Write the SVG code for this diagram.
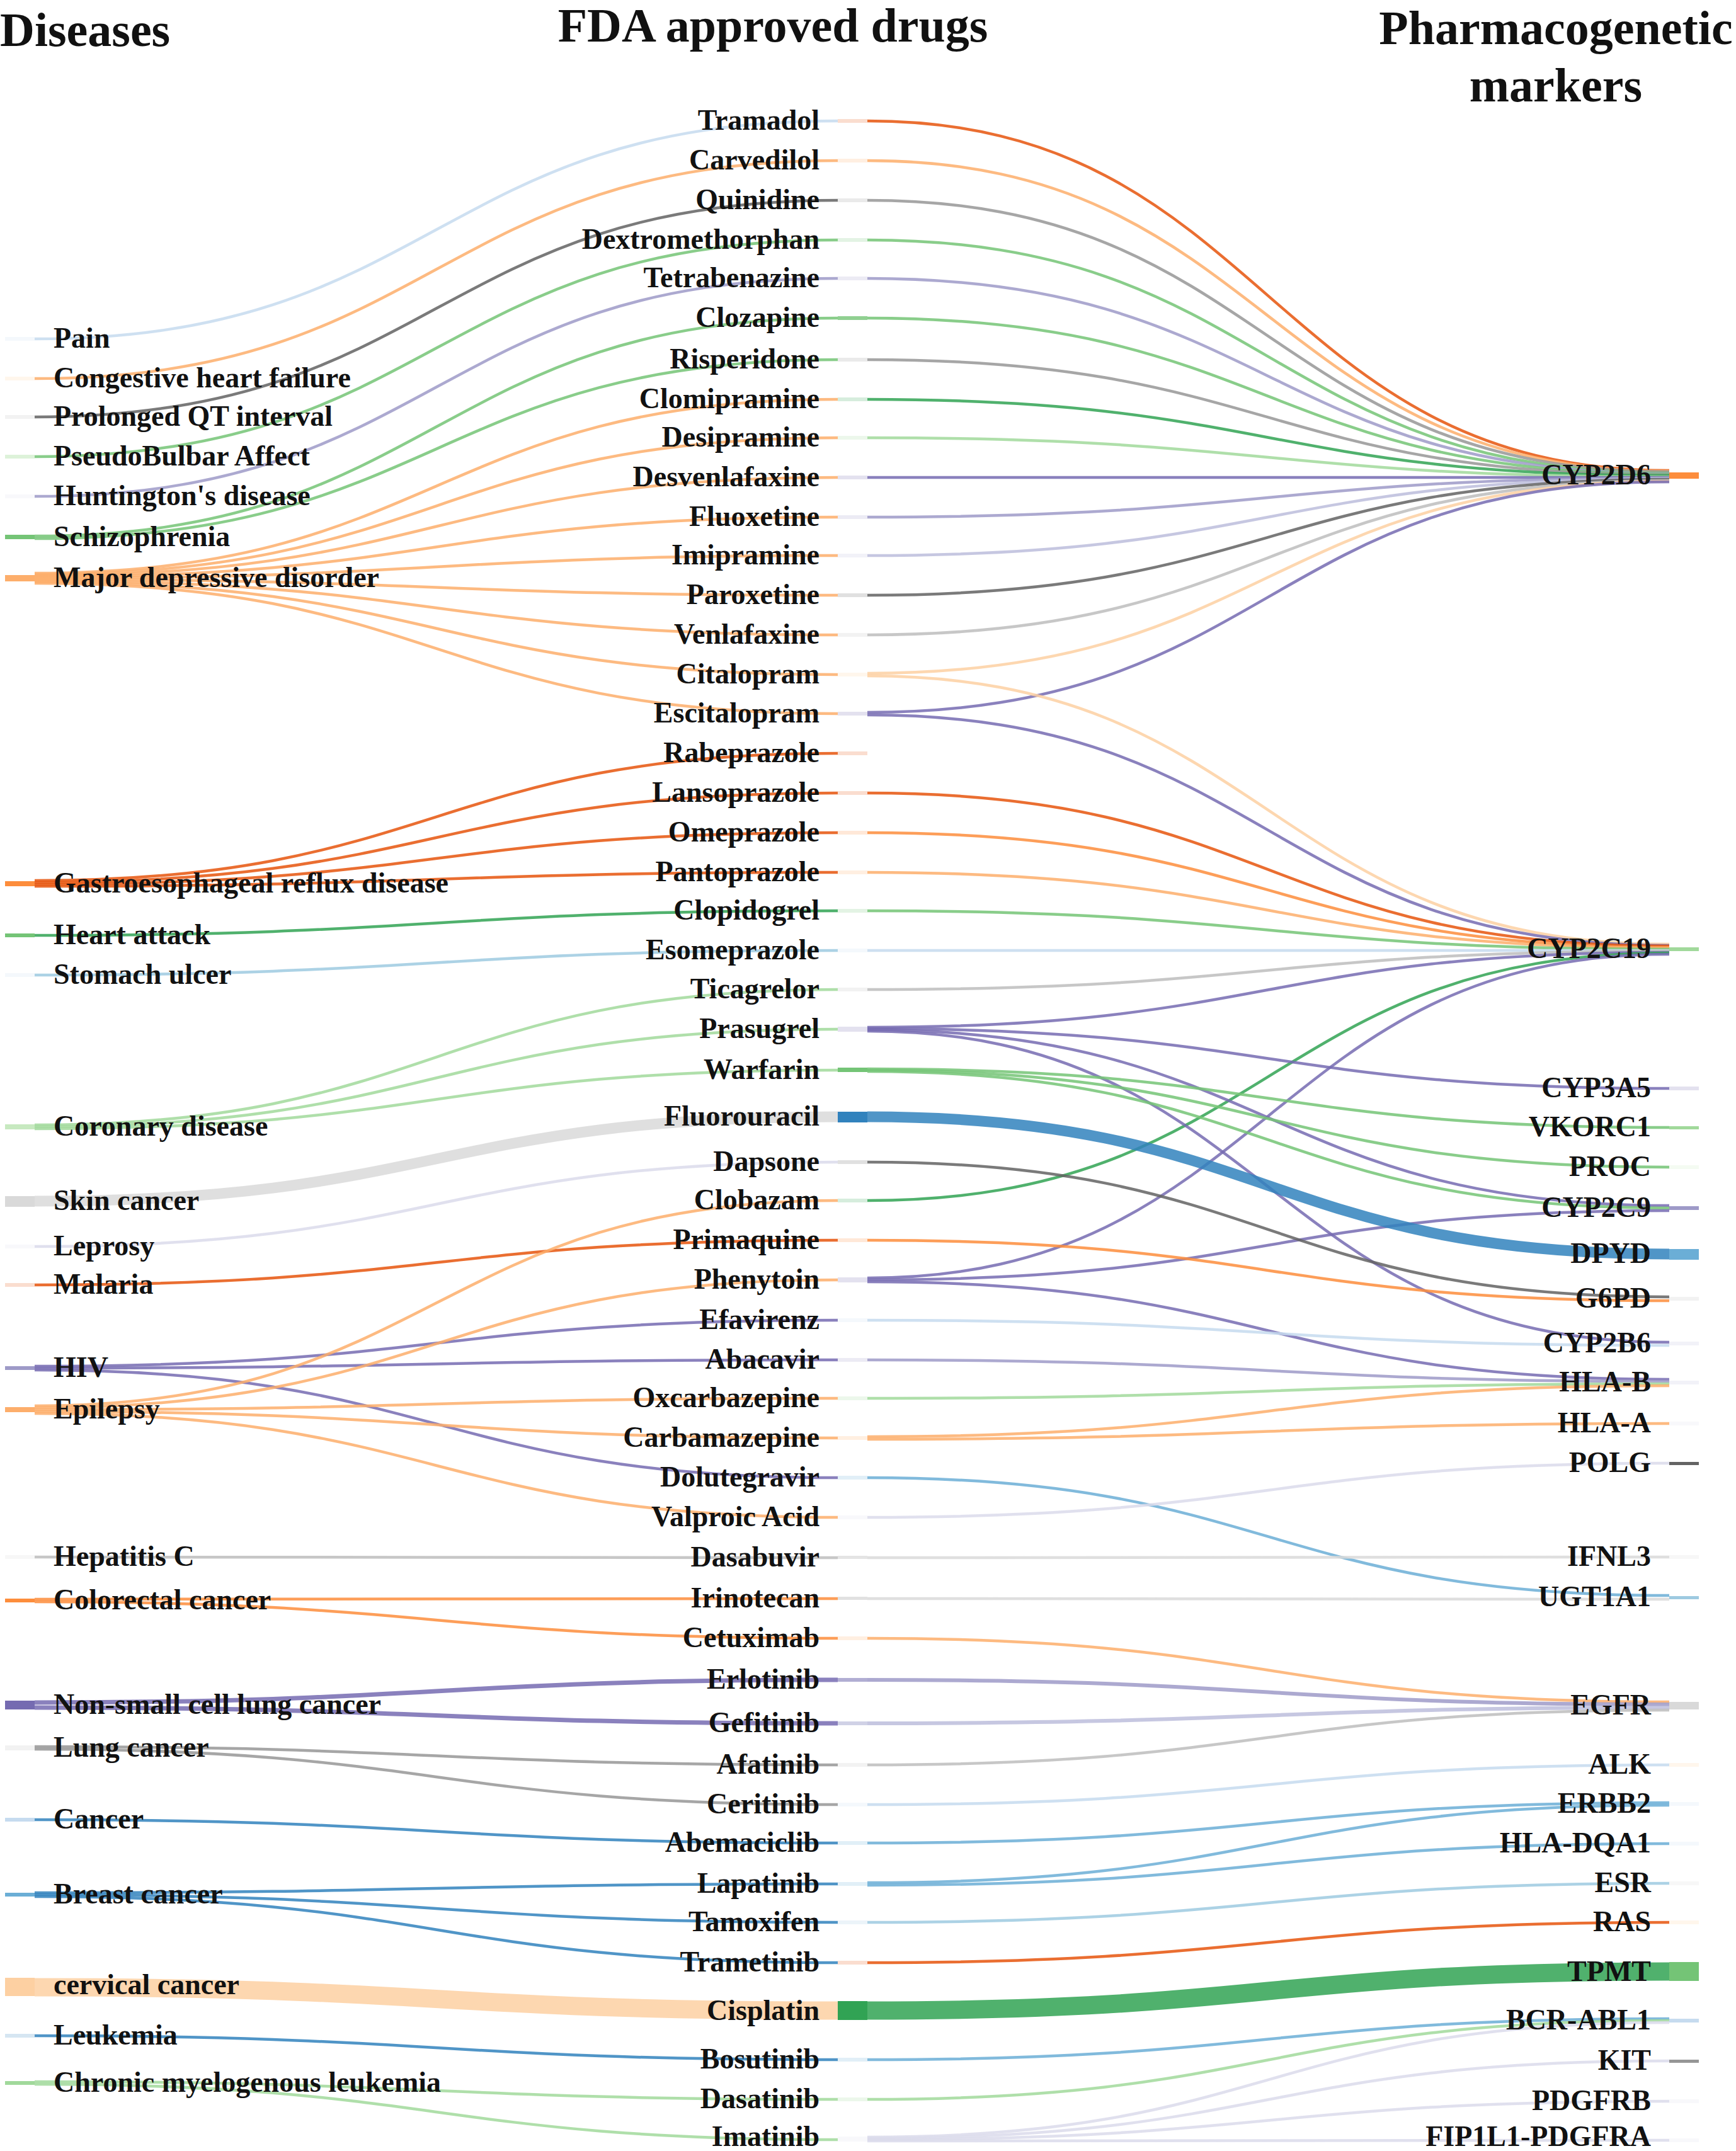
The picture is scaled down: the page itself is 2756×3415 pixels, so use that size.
<svg xmlns="http://www.w3.org/2000/svg" width="2756" height="3415" viewBox="0 0 2756 3415">
<style>
.b1{stroke:#3182bd;fill:#3182bd}.b2{stroke:#6baed6;fill:#6baed6}.b3{stroke:#9ecae1;fill:#9ecae1}.b4{stroke:#c6dbef;fill:#c6dbef}
.o1{stroke:#e6550d;fill:#e6550d}.o2{stroke:#fd8d3c;fill:#fd8d3c}.o3{stroke:#fdae6b;fill:#fdae6b}.o4{stroke:#fdd0a2;fill:#fdd0a2}
.g1{stroke:#31a354;fill:#31a354}.g2{stroke:#74c476;fill:#74c476}.g3{stroke:#a1d99b;fill:#a1d99b}.g4{stroke:#c7e9c0;fill:#c7e9c0}
.p1{stroke:#756bb1;fill:#756bb1}.p2{stroke:#9e9ac8;fill:#9e9ac8}.p3{stroke:#bcbddc;fill:#bcbddc}.p4{stroke:#dadaeb;fill:#dadaeb}
.k1{stroke:#636363;fill:#636363}.k2{stroke:#969696;fill:#969696}.k3{stroke:#bdbdbd;fill:#bdbdbd}.k4{stroke:#d9d9d9;fill:#d9d9d9}
.lk{fill:none;stroke-width:4.5;stroke-opacity:.85}
.nd{stroke:none}
.nf{opacity:.2}
.t{font-family:"Liberation Serif","Times New Roman",serif;font-weight:bold;font-size:46px;fill:#111}
.e{text-anchor:end}
.h{font-size:76px}
.m{text-anchor:middle}
</style>
<rect width="2756" height="3415" fill="#ffffff"/>
<g id="connectors">
<!-- disease to drug -->
<path class="lk b4" d="M55,538C692,538 692,192 1330,192"/>
<path class="lk o3" d="M55,601C692,601 692,255 1330,255"/>
<path class="lk k1" d="M55,662C692,662 692,318 1330,318"/>
<path class="lk g2" d="M55,725C692,725 692,381 1330,381"/>
<path class="lk p2" d="M55,788C692,788 692,442 1330,442"/>
<path class="lk g2" d="M55,851C692,851 692,505 1330,505"/>
<path class="lk g2" d="M55,855C692,855 692,571 1330,571"/>
<path class="lk o3" d="M55,910C692,910 692,634 1330,634"/>
<path class="lk o3" d="M55,912C692,912 692,695 1330,695"/>
<path class="lk o3" d="M55,914C692,914 692,758 1330,758"/>
<path class="lk o3" d="M55,916C692,916 692,821 1330,821"/>
<path class="lk o3" d="M55,918C692,918 692,882 1330,882"/>
<path class="lk o3" d="M55,920C692,920 692,945 1330,945"/>
<path class="lk o3" d="M55,922C692,922 692,1008 1330,1008"/>
<path class="lk o3" d="M55,924C692,924 692,1071 1330,1071"/>
<path class="lk o3" d="M55,926C692,926 692,1133 1330,1133"/>
<path class="lk o1" d="M55,1398C692,1398 692,1196 1330,1196"/>
<path class="lk o1" d="M55,1401C692,1401 692,1259 1330,1259"/>
<path class="lk o1" d="M55,1404C692,1404 692,1322 1330,1322"/>
<path class="lk o1" d="M55,1407C692,1407 692,1385 1330,1385"/>
<path class="lk g1" d="M55,1485C692,1485 692,1446 1330,1446"/>
<path class="lk b3" d="M55,1548C692,1548 692,1509 1330,1509"/>
<path class="lk g3" d="M55,1786C692,1786 692,1571 1330,1571"/>
<path class="lk g3" d="M55,1789C692,1789 692,1634 1330,1634"/>
<path class="lk g3" d="M55,1792C692,1792 692,1699 1330,1699"/>
<path class="lk k4" style="stroke-width:17" d="M55,1907C692,1907 692,1773 1330,1773"/>
<path class="lk p4" d="M55,1979C692,1979 692,1845 1330,1845"/>
<path class="lk o1" d="M55,2040C692,2040 692,1969 1330,1969"/>
<path class="lk p1" d="M55,2169C692,2169 692,2096 1330,2096"/>
<path class="lk p1" d="M55,2172C692,2172 692,2159 1330,2159"/>
<path class="lk p1" d="M55,2175C692,2175 692,2346 1330,2346"/>
<path class="lk o3" d="M55,2232C692,2232 692,1906 1330,1906"/>
<path class="lk o3" d="M55,2235C692,2235 692,2032 1330,2032"/>
<path class="lk o3" d="M55,2238C692,2238 692,2220 1330,2220"/>
<path class="lk o3" d="M55,2241C692,2241 692,2283 1330,2283"/>
<path class="lk o3" d="M55,2244C692,2244 692,2409 1330,2409"/>
<path class="lk k3" d="M55,2472C692,2472 692,2473 1330,2473"/>
<path class="lk o2" d="M55,2539C692,2539 692,2538 1330,2538"/>
<path class="lk o2" d="M55,2543C692,2543 692,2601 1330,2601"/>
<path class="lk p1" style="stroke-width:7" d="M55,2703C692,2703 692,2667 1330,2667"/>
<path class="lk p1" style="stroke-width:7" d="M55,2711C692,2711 692,2736 1330,2736"/>
<path class="lk k2" d="M55,2773C692,2773 692,2802 1330,2802"/>
<path class="lk k2" d="M55,2777C692,2777 692,2865 1330,2865"/>
<path class="lk b1" d="M55,2889C692,2889 692,2926 1330,2926"/>
<path class="lk b1" d="M55,3005C692,3005 692,2991 1330,2991"/>
<path class="lk b1" d="M55,3008C692,3008 692,3052 1330,3052"/>
<path class="lk b1" d="M55,3011C692,3011 692,3116 1330,3116"/>
<path class="lk o4" style="stroke-width:29" d="M55,3155C692,3155 692,3192 1330,3192"/>
<path class="lk b1" d="M55,3232C692,3232 692,3270 1330,3270"/>
<path class="lk g3" d="M55,3305C692,3305 692,3333 1330,3333"/>
<path class="lk g3" d="M55,3309C692,3309 692,3397 1330,3397"/>
<!-- drug to marker -->
<path class="lk o1" d="M1377,192C2013,192 2013,747 2650,747"/>
<path class="lk o3" d="M1377,255C2013,255 2013,748 2650,748"/>
<path class="lk k2" d="M1377,318C2013,318 2013,749 2650,749"/>
<path class="lk g2" d="M1377,381C2013,381 2013,751 2650,751"/>
<path class="lk p2" d="M1377,442C2013,442 2013,752 2650,752"/>
<path class="lk g2" d="M1377,505C2013,505 2013,753 2650,753"/>
<path class="lk k2" d="M1377,571C2013,571 2013,754 2650,754"/>
<path class="lk g1" d="M1377,634C2013,634 2013,755 2650,755"/>
<path class="lk g3" d="M1377,695C2013,695 2013,757 2650,757"/>
<path class="lk p1" d="M1377,758C2013,758 2013,758 2650,758"/>
<path class="lk p2" d="M1377,821C2013,821 2013,759 2650,759"/>
<path class="lk p3" d="M1377,882C2013,882 2013,760 2650,760"/>
<path class="lk k1" d="M1377,945C2013,945 2013,761 2650,761"/>
<path class="lk k3" d="M1377,1008C2013,1008 2013,763 2650,763"/>
<path class="lk o4" d="M1377,1069C2013,1069 2013,764 2650,764"/>
<path class="lk p1" d="M1377,1131C2013,1131 2013,765 2650,765"/>
<path class="lk o4" d="M1377,1073C2013,1073 2013,1499 2650,1499"/>
<path class="lk p1" d="M1377,1135C2013,1135 2013,1501 2650,1501"/>
<path class="lk o1" d="M1377,1259C2013,1259 2013,1502 2650,1502"/>
<path class="lk o2" d="M1377,1322C2013,1322 2013,1504 2650,1504"/>
<path class="lk o3" d="M1377,1385C2013,1385 2013,1505 2650,1505"/>
<path class="lk g2" d="M1377,1446C2013,1446 2013,1507 2650,1507"/>
<path class="lk b4" d="M1377,1509C2013,1509 2013,1509 2650,1509"/>
<path class="lk k3" d="M1377,1571C2013,1571 2013,1510 2650,1510"/>
<path class="lk p1" d="M1377,1631C2013,1631 2013,1512 2650,1512"/>
<path class="lk g1" d="M1377,1906C2013,1906 2013,1513 2650,1513"/>
<path class="lk p1" d="M1377,2029C2013,2029 2013,1515 2650,1515"/>
<path class="lk p1" d="M1377,1633C2013,1633 2013,1728 2650,1728"/>
<path class="lk p1" d="M1377,1635C2013,1635 2013,1914 2650,1914"/>
<path class="lk p1" d="M1377,1637C2013,1637 2013,2131 2650,2131"/>
<path class="lk g2" d="M1377,1697C2013,1697 2013,1790 2650,1790"/>
<path class="lk g2" d="M1377,1699C2013,1699 2013,1853 2650,1853"/>
<path class="lk g2" d="M1377,1701C2013,1701 2013,1918 2650,1918"/>
<path class="lk p1" d="M1377,2032C2013,2032 2013,1922 2650,1922"/>
<path class="lk p1" d="M1377,2035C2013,2035 2013,2190 2650,2190"/>
<path class="lk b1" style="stroke-width:17" d="M1377,1773C2013,1773 2013,1991 2650,1991"/>
<path class="lk k1" d="M1377,1845C2013,1845 2013,2059 2650,2059"/>
<path class="lk o2" d="M1377,1969C2013,1969 2013,2065 2650,2065"/>
<path class="lk b4" d="M1377,2096C2013,2096 2013,2136 2650,2136"/>
<path class="lk p2" d="M1377,2159C2013,2159 2013,2193 2650,2193"/>
<path class="lk g3" d="M1377,2220C2013,2220 2013,2197 2650,2197"/>
<path class="lk o3" d="M1377,2281C2013,2281 2013,2200 2650,2200"/>
<path class="lk o3" d="M1377,2285C2013,2285 2013,2260 2650,2260"/>
<path class="lk b2" d="M1377,2346C2013,2346 2013,2533 2650,2533"/>
<path class="lk p4" d="M1377,2409C2013,2409 2013,2323 2650,2323"/>
<path class="lk k4" d="M1377,2473C2013,2473 2013,2472 2650,2472"/>
<path class="lk k4" d="M1377,2538C2013,2538 2013,2539 2650,2539"/>
<path class="lk o3" d="M1377,2601C2013,2601 2013,2702 2650,2702"/>
<path class="lk p2" style="stroke-width:6" d="M1377,2667C2013,2667 2013,2706 2650,2706"/>
<path class="lk p3" style="stroke-width:6" d="M1377,2736C2013,2736 2013,2711 2650,2711"/>
<path class="lk k3" d="M1377,2802C2013,2802 2013,2715 2650,2715"/>
<path class="lk b4" d="M1377,2865C2013,2865 2013,2802 2650,2802"/>
<path class="lk b2" d="M1377,2926C2013,2926 2013,2862 2650,2862"/>
<path class="lk b2" d="M1377,2989C2013,2989 2013,2866 2650,2866"/>
<path class="lk b2" d="M1377,2993C2013,2993 2013,2927 2650,2927"/>
<path class="lk b3" d="M1377,3052C2013,3052 2013,2990 2650,2990"/>
<path class="lk o1" d="M1377,3116C2013,3116 2013,3052 2650,3052"/>
<path class="lk g1" style="stroke-width:29" d="M1377,3192C2013,3192 2013,3130 2650,3130"/>
<path class="lk b2" d="M1377,3270C2013,3270 2013,3205 2650,3205"/>
<path class="lk g3" d="M1377,3333C2013,3333 2013,3208 2650,3208"/>
<path class="lk p4" d="M1377,3393C2013,3393 2013,3211 2650,3211"/>
<path class="lk p4" d="M1377,3395C2013,3395 2013,3272 2650,3272"/>
<path class="lk p4" d="M1377,3397C2013,3397 2013,3336 2650,3336"/>
<path class="lk p4" d="M1377,3399C2013,3399 2013,3398 2650,3398"/>
</g>
<g id="headers">
<text class="t h" x="0" y="73">Diseases</text>
<text class="t h m" x="1227" y="66">FDA approved drugs</text>
<text class="t h m" x="2470" y="70">Pharmacogenetic</text>
<text class="t h m" x="2470" y="161">markers</text>
</g>
<g id="diseases">
<g id="d-pain"><rect class="nd b4 nf" x="8" y="535" width="47" height="6"/><text class="t" x="85" y="552">Pain</text></g>
<g id="d-chf"><rect class="nd o4 nf" x="8" y="598" width="47" height="6"/><text class="t" x="85" y="615">Congestive heart failure</text></g>
<g id="d-qt"><rect class="nd k3 nf" x="8" y="659" width="47" height="6"/><text class="t" x="85" y="676">Prolonged QT interval</text></g>
<g id="d-pba"><rect class="nd g4" x="8" y="722" width="47" height="6" opacity=".6"/><text class="t" x="85" y="739">PseudoBulbar Affect</text></g>
<g id="d-hunt"><rect class="nd p4 nf" x="8" y="785" width="47" height="6"/><text class="t" x="85" y="802">Huntington's disease</text></g>
<g id="d-schiz"><rect class="nd g2" x="8" y="849" width="47" height="7"/><text class="t" x="85" y="867">Schizophrenia</text></g>
<g id="d-mdd"><rect class="nd o3" x="8" y="913" width="47" height="10"/><text class="t" x="85" y="932">Major depressive disorder</text></g>
<g id="d-gerd"><rect class="nd o2" x="8" y="1399" width="47" height="8"/><text class="t" x="85" y="1417">Gastroesophageal reflux disease</text></g>
<g id="d-heart"><rect class="nd g2" x="8" y="1482" width="47" height="6"/><text class="t" x="85" y="1499">Heart attack</text></g>
<g id="d-ulcer"><rect class="nd b4 nf" x="8" y="1545" width="47" height="6"/><text class="t" x="85" y="1562">Stomach ulcer</text></g>
<g id="d-coronary"><rect class="nd g4" x="8" y="1785" width="47" height="8"/><text class="t" x="85" y="1803">Coronary disease</text></g>
<g id="d-skin"><rect class="nd k4" x="8" y="1899" width="47" height="17"/><text class="t" x="85" y="1921">Skin cancer</text></g>
<g id="d-leprosy"><rect class="nd p4 nf" x="8" y="1976" width="47" height="6"/><text class="t" x="85" y="1993">Leprosy</text></g>
<g id="d-malaria"><rect class="nd o1 nf" x="8" y="2037" width="47" height="6"/><text class="t" x="85" y="2054">Malaria</text></g>
<g id="d-hiv"><rect class="nd p2" x="8" y="2169" width="47" height="6"/><text class="t" x="85" y="2186">HIV</text></g>
<g id="d-epilepsy"><rect class="nd o3" x="8" y="2234" width="47" height="8"/><text class="t" x="85" y="2252">Epilepsy</text></g>
<g id="d-hepc"><rect class="nd k4 nf" x="8" y="2469" width="47" height="6"/><text class="t" x="85" y="2486">Hepatitis C</text></g>
<g id="d-crc"><rect class="nd o2" x="8" y="2538" width="47" height="6"/><text class="t" x="85" y="2555">Colorectal cancer</text></g>
<g id="d-nsclc"><rect class="nd p1" x="8" y="2700" width="47" height="14"/><text class="t" x="85" y="2721">Non-small cell lung cancer</text></g>
<g id="d-lung"><rect class="nd k3 nf" x="8" y="2771" width="47" height="8"/><text class="t" x="85" y="2789">Lung cancer</text></g>
<g id="d-cancer"><rect class="nd b4" x="8" y="2886" width="47" height="6"/><text class="t" x="85" y="2903">Cancer</text></g>
<g id="d-breast"><rect class="nd b2" x="8" y="3005" width="47" height="6"/><text class="t" x="85" y="3022">Breast cancer</text></g>
<g id="d-cervical"><rect class="nd o4" x="8" y="3140" width="47" height="29"/><text class="t" x="85" y="3166">cervical cancer</text></g>
<g id="d-leuk"><rect class="nd b1 nf" x="8" y="3229" width="47" height="6"/><text class="t" x="85" y="3246">Leukemia</text></g>
<g id="d-cml"><rect class="nd g3" x="8" y="3304" width="47" height="6"/><text class="t" x="85" y="3321">Chronic myelogenous leukemia</text></g>
</g>
<g id="drugs">
<g id="r-tramadol"><rect class="nd o1 nf" x="1330" y="189" width="47" height="6"/><text class="t e" x="1301" y="206">Tramadol</text></g>
<g id="r-carvedilol"><rect class="nd o3 nf" x="1330" y="252" width="47" height="6"/><text class="t e" x="1301" y="269">Carvedilol</text></g>
<g id="r-quinidine"><rect class="nd k2 nf" x="1330" y="315" width="47" height="6"/><text class="t e" x="1301" y="332">Quinidine</text></g>
<g id="r-dextromethorphan"><rect class="nd g2 nf" x="1330" y="378" width="47" height="6"/><text class="t e" x="1301" y="395">Dextromethorphan</text></g>
<g id="r-tetrabenazine"><rect class="nd p2 nf" x="1330" y="439" width="47" height="6"/><text class="t e" x="1301" y="456">Tetrabenazine</text></g>
<g id="r-clozapine"><rect class="nd g2" x="1330" y="502" width="47" height="6" opacity=".8"/><text class="t e" x="1301" y="519">Clozapine</text></g>
<g id="r-risperidone"><rect class="nd k2 nf" x="1330" y="568" width="47" height="6"/><text class="t e" x="1301" y="585">Risperidone</text></g>
<g id="r-clomipramine"><rect class="nd g1 nf" x="1330" y="631" width="47" height="6"/><text class="t e" x="1301" y="648">Clomipramine</text></g>
<g id="r-desipramine"><rect class="nd g3 nf" x="1330" y="692" width="47" height="6"/><text class="t e" x="1301" y="709">Desipramine</text></g>
<g id="r-desvenlafaxine"><rect class="nd p1 nf" x="1330" y="755" width="47" height="6"/><text class="t e" x="1301" y="772">Desvenlafaxine</text></g>
<g id="r-fluoxetine"><rect class="nd p2 nf" x="1330" y="818" width="47" height="6"/><text class="t e" x="1301" y="835">Fluoxetine</text></g>
<g id="r-imipramine"><rect class="nd p3 nf" x="1330" y="879" width="47" height="6"/><text class="t e" x="1301" y="896">Imipramine</text></g>
<g id="r-paroxetine"><rect class="nd k1 nf" x="1330" y="942" width="47" height="6"/><text class="t e" x="1301" y="959">Paroxetine</text></g>
<g id="r-venlafaxine"><rect class="nd k3 nf" x="1330" y="1005" width="47" height="6"/><text class="t e" x="1301" y="1022">Venlafaxine</text></g>
<g id="r-citalopram"><rect class="nd o4 nf" x="1330" y="1068" width="47" height="6"/><text class="t e" x="1301" y="1085">Citalopram</text></g>
<g id="r-escitalopram"><rect class="nd p1 nf" x="1330" y="1130" width="47" height="6"/><text class="t e" x="1301" y="1147">Escitalopram</text></g>
<g id="r-rabeprazole"><rect class="nd o1 nf" x="1330" y="1193" width="47" height="6"/><text class="t e" x="1301" y="1210">Rabeprazole</text></g>
<g id="r-lansoprazole"><rect class="nd o1 nf" x="1330" y="1256" width="47" height="6"/><text class="t e" x="1301" y="1273">Lansoprazole</text></g>
<g id="r-omeprazole"><rect class="nd o2 nf" x="1330" y="1319" width="47" height="6"/><text class="t e" x="1301" y="1336">Omeprazole</text></g>
<g id="r-pantoprazole"><rect class="nd o3 nf" x="1330" y="1382" width="47" height="6"/><text class="t e" x="1301" y="1399">Pantoprazole</text></g>
<g id="r-clopidogrel"><rect class="nd g2 nf" x="1330" y="1443" width="47" height="6"/><text class="t e" x="1301" y="1460">Clopidogrel</text></g>
<g id="r-esomeprazole"><rect class="nd b4 nf" x="1330" y="1506" width="47" height="6"/><text class="t e" x="1301" y="1523">Esomeprazole</text></g>
<g id="r-ticagrelor"><rect class="nd k3 nf" x="1330" y="1568" width="47" height="6"/><text class="t e" x="1301" y="1585">Ticagrelor</text></g>
<g id="r-prasugrel"><rect class="nd p1 nf" x="1330" y="1630" width="47" height="8"/><text class="t e" x="1301" y="1648">Prasugrel</text></g>
<g id="r-warfarin"><rect class="nd g2" x="1330" y="1695" width="47" height="7"/><text class="t e" x="1301" y="1713">Warfarin</text></g>
<g id="r-fluorouracil"><rect class="nd b1" x="1330" y="1765" width="47" height="17"/><text class="t e" x="1301" y="1787">Fluorouracil</text></g>
<g id="r-dapsone"><rect class="nd k1 nf" x="1330" y="1842" width="47" height="6"/><text class="t e" x="1301" y="1859">Dapsone</text></g>
<g id="r-clobazam"><rect class="nd g1 nf" x="1330" y="1903" width="47" height="6"/><text class="t e" x="1301" y="1920">Clobazam</text></g>
<g id="r-primaquine"><rect class="nd o2 nf" x="1330" y="1966" width="47" height="6"/><text class="t e" x="1301" y="1983">Primaquine</text></g>
<g id="r-phenytoin"><rect class="nd p1 nf" x="1330" y="2028" width="47" height="8"/><text class="t e" x="1301" y="2046">Phenytoin</text></g>
<g id="r-efavirenz"><rect class="nd b4 nf" x="1330" y="2093" width="47" height="6"/><text class="t e" x="1301" y="2110">Efavirenz</text></g>
<g id="r-abacavir"><rect class="nd p2 nf" x="1330" y="2156" width="47" height="6"/><text class="t e" x="1301" y="2173">Abacavir</text></g>
<g id="r-oxcarbazepine"><rect class="nd g3 nf" x="1330" y="2217" width="47" height="6"/><text class="t e" x="1301" y="2234">Oxcarbazepine</text></g>
<g id="r-carbamazepine"><rect class="nd o3 nf" x="1330" y="2280" width="47" height="6"/><text class="t e" x="1301" y="2297">Carbamazepine</text></g>
<g id="r-dolutegravir"><rect class="nd b2 nf" x="1330" y="2343" width="47" height="6"/><text class="t e" x="1301" y="2360">Dolutegravir</text></g>
<g id="r-valproic"><rect class="nd p4 nf" x="1330" y="2406" width="47" height="6"/><text class="t e" x="1301" y="2423">Valproic Acid</text></g>
<g id="r-dasabuvir"><rect class="nd k4" x="1330" y="2470" width="47" height="5" opacity=".7"/><text class="t e" x="1301" y="2487">Dasabuvir</text></g>
<g id="r-irinotecan"><rect class="nd k4" x="1330" y="2535" width="47" height="5" opacity=".8"/><text class="t e" x="1301" y="2552">Irinotecan</text></g>
<g id="r-cetuximab"><rect class="nd o3 nf" x="1330" y="2598" width="47" height="6"/><text class="t e" x="1301" y="2615">Cetuximab</text></g>
<g id="r-erlotinib"><rect class="nd p2" x="1330" y="2664" width="47" height="6" opacity=".8"/><text class="t e" x="1301" y="2681">Erlotinib</text></g>
<g id="r-gefitinib"><rect class="nd p3" x="1330" y="2733" width="47" height="6" opacity=".7"/><text class="t e" x="1301" y="2750">Gefitinib</text></g>
<g id="r-afatinib"><rect class="nd k3 nf" x="1330" y="2799" width="47" height="6"/><text class="t e" x="1301" y="2816">Afatinib</text></g>
<g id="r-ceritinib"><rect class="nd b4 nf" x="1330" y="2862" width="47" height="6"/><text class="t e" x="1301" y="2879">Ceritinib</text></g>
<g id="r-abemaciclib"><rect class="nd b2 nf" x="1330" y="2923" width="47" height="6"/><text class="t e" x="1301" y="2940">Abemaciclib</text></g>
<g id="r-lapatinib"><rect class="nd b2 nf" x="1330" y="2988" width="47" height="6"/><text class="t e" x="1301" y="3005">Lapatinib</text></g>
<g id="r-tamoxifen"><rect class="nd b3 nf" x="1330" y="3049" width="47" height="6"/><text class="t e" x="1301" y="3066">Tamoxifen</text></g>
<g id="r-trametinib"><rect class="nd o1 nf" x="1330" y="3113" width="47" height="6"/><text class="t e" x="1301" y="3130">Trametinib</text></g>
<g id="r-cisplatin"><rect class="nd g1" x="1330" y="3177" width="47" height="30"/><text class="t e" x="1301" y="3207">Cisplatin</text></g>
<g id="r-bosutinib"><rect class="nd b2 nf" x="1330" y="3267" width="47" height="6"/><text class="t e" x="1301" y="3284">Bosutinib</text></g>
<g id="r-dasatinib"><rect class="nd g3 nf" x="1330" y="3330" width="47" height="6"/><text class="t e" x="1301" y="3347">Dasatinib</text></g>
<g id="r-imatinib"><rect class="nd p4 nf" x="1330" y="3392" width="47" height="8"/><text class="t e" x="1301" y="3407">Imatinib</text></g>
</g>
<g id="markers">
<g id="m-cyp2d6"><rect class="nd o2" x="2650" y="750" width="47" height="10"/><text class="t e" x="2621" y="769">CYP2D6</text></g>
<g id="m-cyp2c19"><rect class="nd g3" x="2650" y="1504" width="47" height="6"/><text class="t e" x="2621" y="1521">CYP2C19</text></g>
<g id="m-cyp3a5"><rect class="nd p1 nf" x="2650" y="1725" width="47" height="6"/><text class="t e" x="2621" y="1742">CYP3A5</text></g>
<g id="m-vkorc1"><rect class="nd g3" x="2650" y="1788" width="47" height="5"/><text class="t e" x="2621" y="1804">VKORC1</text></g>
<g id="m-proc"><rect class="nd g4 nf" x="2650" y="1850" width="47" height="6"/><text class="t e" x="2621" y="1867">PROC</text></g>
<g id="m-cyp2c9"><rect class="nd p2" x="2650" y="1915" width="47" height="6"/><text class="t e" x="2621" y="1932">CYP2C9</text></g>
<g id="m-dpyd"><rect class="nd b2" x="2650" y="1983" width="47" height="17"/><text class="t e" x="2621" y="2005">DPYD</text></g>
<g id="m-g6pd"><rect class="nd k3 nf" x="2650" y="2059" width="47" height="6"/><text class="t e" x="2621" y="2076">G6PD</text></g>
<g id="m-cyp2b6"><rect class="nd p3 nf" x="2650" y="2130" width="47" height="6"/><text class="t e" x="2621" y="2147">CYP2B6</text></g>
<g id="m-hlab"><rect class="nd p3 nf" x="2650" y="2192" width="47" height="6"/><text class="t e" x="2621" y="2209">HLA-B</text></g>
<g id="m-hlaa"><rect class="nd p4 nf" x="2650" y="2257" width="47" height="6"/><text class="t e" x="2621" y="2274">HLA-A</text></g>
<g id="m-polg"><rect class="nd k1" x="2650" y="2321" width="47" height="5"/><text class="t e" x="2621" y="2337">POLG</text></g>
<g id="m-ifnl3"><rect class="nd k4 nf" x="2650" y="2469" width="47" height="6"/><text class="t e" x="2621" y="2486">IFNL3</text></g>
<g id="m-ugt1a1"><rect class="nd b3" x="2650" y="2534" width="47" height="5"/><text class="t e" x="2621" y="2550">UGT1A1</text></g>
<g id="m-egfr"><rect class="nd k4" x="2650" y="2702" width="47" height="12"/><text class="t e" x="2621" y="2722">EGFR</text></g>
<g id="m-alk"><rect class="nd o4 nf" x="2650" y="2799" width="47" height="6"/><text class="t e" x="2621" y="2816">ALK</text></g>
<g id="m-erbb2"><rect class="nd b4 nf" x="2650" y="2861" width="47" height="6"/><text class="t e" x="2621" y="2878">ERBB2</text></g>
<g id="m-hladqa1"><rect class="nd b4 nf" x="2650" y="2924" width="47" height="6"/><text class="t e" x="2621" y="2941">HLA-DQA1</text></g>
<g id="m-esr"><rect class="nd k4 nf" x="2650" y="2987" width="47" height="6"/><text class="t e" x="2621" y="3004">ESR</text></g>
<g id="m-ras"><rect class="nd o4 nf" x="2650" y="3049" width="47" height="6"/><text class="t e" x="2621" y="3066">RAS</text></g>
<g id="m-tpmt"><rect class="nd g2" x="2650" y="3115" width="47" height="30"/><text class="t e" x="2621" y="3145">TPMT</text></g>
<g id="m-bcrabl1"><rect class="nd b4" x="2650" y="3205" width="47" height="6"/><text class="t e" x="2621" y="3222">BCR-ABL1</text></g>
<g id="m-kit"><rect class="nd k2" x="2650" y="3270" width="47" height="5"/><text class="t e" x="2621" y="3286">KIT</text></g>
<g id="m-pdgfrb"><rect class="nd p4 nf" x="2650" y="3333" width="47" height="6"/><text class="t e" x="2621" y="3350">PDGFRB</text></g>
<g id="m-fip1l1"><rect class="nd p4 nf" x="2650" y="3395" width="47" height="6"/><text class="t e" x="2621" y="3407">FIP1L1-PDGFRA</text></g>
</g>
</svg>
